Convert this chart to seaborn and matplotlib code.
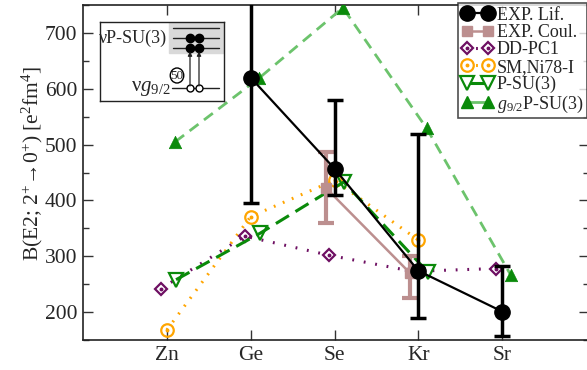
import matplotlib
matplotlib.use("Agg")
import matplotlib.pyplot as plt
from matplotlib.lines import Line2D
from matplotlib.patches import Rectangle, Ellipse
from matplotlib.legend_handler import HandlerTuple
from matplotlib.ticker import MultipleLocator
import seaborn as sns
import pandas as pd
import numpy as np

# Nuclei along the chain
elements = ["Zn", "Ge", "Se", "Kr", "Sr"]

# Experiment, lifetime measurements (value, lower and upper error bounds)
lif_nuclei = ["Ge", "Se", "Kr", "Sr"]
lif_value = [620, 457, 274, 201]
lif_low = [395, 410, 190, 158]
lif_high = [845, 580, 519, 283]

# Experiment, Coulomb excitation
coul_nuclei = ["Se", "Kr"]
coul_value = [422, 270]
coul_low = [359, 225]
coul_high = [487, 300]

# Theory
ddpc1_nuclei = ["Zn", "Ge", "Se", "Kr", "Sr"]
ddpc1_value = [242, 336, 302, 273, 278]

sm_nuclei = ["Zn", "Ge", "Se", "Kr"]
sm_value = [168, 371, 436, 329]

psu3_nuclei = ["Zn", "Ge", "Se", "Kr"]
psu3_value = [258, 341, 433, 272]

g92_nuclei = ["Zn", "Ge", "Se", "Kr", "Sr"]
g92_value = [505, 619, 745, 529, 267]

sns.set_theme(style="ticks")
plt.rcParams["font.family"] = ["Liberation Serif", "DejaVu Serif"]
plt.rcParams["mathtext.fontset"] = "custom"
plt.rcParams["mathtext.rm"] = "Liberation Serif"
plt.rcParams["mathtext.it"] = "Liberation Serif:italic"

BLACK = "#000000"
ROSY = "#bc8f8f"
PURPLE = "#6e0f62"
ORANGE = "#ffa500"
GREEN = "#0a8a0a"
LGREEN = "#6cc36c"

pos = {e: i + 1 for i, e in enumerate(elements)}


def frame(nuclei, values, shift=0.0):
    return pd.DataFrame({"x": [pos[n] + shift for n in nuclei], "y": values})


fig = plt.figure(figsize=(5.87, 3.70), dpi=100)
ax = fig.add_axes([83 / 587, 30 / 370, 506 / 587, 335 / 370])

# g9/2 P-SU(3): light dashed line, solid triangles
d = frame(g92_nuclei, g92_value, 0.1)
sns.lineplot(data=d, x="x", y="y", ax=ax, sort=False, color=LGREEN, lw=2,
             linestyle=(0, (4, 2.5)), zorder=2)
sns.scatterplot(data=d, x="x", y="y", ax=ax, marker="^", s=80, color=GREEN,
                edgecolor=GREEN, linewidth=0.5, zorder=3)

# DD-PC1: dotted line, diamonds with a centre dot
d = frame(ddpc1_nuclei, ddpc1_value, -0.07)
sns.lineplot(data=d, x="x", y="y", ax=ax, sort=False, color=PURPLE, lw=2.2,
             linestyle=(0, (0.6, 3.2)), zorder=3)
ax.plot(d["x"], d["y"], ls="none", marker="D", ms=6.5, mfc="white", mec=PURPLE,
        mew=1.6, zorder=4)
ax.plot(d["x"], d["y"], ls="none", marker="o", ms=1.8, color=PURPLE, zorder=4)

# SM, Ni78-I: dotted line, circles with a centre dot
d = frame(sm_nuclei, sm_value)
sns.lineplot(data=d, x="x", y="y", ax=ax, sort=False, color=ORANGE, lw=2.2,
             linestyle=(0, (0.6, 2.6)), zorder=3)
ax.plot(d["x"], d["y"], ls="none", marker="o", ms=9, mfc="none", mec=ORANGE,
        mew=1.6, zorder=4)
ax.plot(d["x"], d["y"], ls="none", marker="o", ms=1.8, color=ORANGE, zorder=4)

# P-SU(3): dashed line, open down triangles
d = frame(psu3_nuclei, psu3_value, 0.11)
sns.lineplot(data=d, x="x", y="y", ax=ax, sort=False, color=GREEN, lw=2.2,
             linestyle=(0, (5, 2.5)), zorder=4)
ax.plot(d["x"], d["y"], ls="none", marker="v", ms=10, mfc="none", mec=GREEN,
        mew=1.6, zorder=5)

# Experiment, Coulomb excitation
d = frame(coul_nuclei, coul_value, -0.1)
sns.lineplot(data=d, x="x", y="y", ax=ax, sort=False, color=ROSY, lw=1.8, zorder=5)
ax.errorbar(d["x"], d["y"],
            yerr=[np.subtract(coul_value, coul_low), np.subtract(coul_high, coul_value)],
            fmt="s", ms=7, color=ROSY, ecolor=ROSY, elinewidth=3, capsize=6,
            capthick=3, zorder=5)

# Experiment, lifetimes
d = frame(lif_nuclei, lif_value)
sns.lineplot(data=d, x="x", y="y", ax=ax, sort=False, color=BLACK, lw=1.6, zorder=6)
ax.errorbar(d["x"], d["y"],
            yerr=[np.subtract(lif_value, lif_low), np.subtract(lif_high, lif_value)],
            fmt="o", ms=11, color=BLACK, ecolor=BLACK, elinewidth=2.5, capsize=6,
            capthick=2.5, zorder=6)

ax.set_xlim(0, 6 * 506 / 503)
ax.set_ylim(150, 750)
ax.set_xticks(list(pos.values()))
ax.set_xticklabels(elements)
ax.yaxis.set_major_locator(MultipleLocator(100))
ax.yaxis.set_minor_locator(MultipleLocator(50))
ax.set_xlabel("")
ax.set_ylabel("B(E2; 2$^{+}$→0$^{+}$) [e$^{2}$fm$^{4}$]", fontsize=15.5)
ax.yaxis.label.set_va("center")
ax.yaxis.set_label_coords(-0.1, 0.527)
ax.tick_params(axis="both", which="major", direction="in", length=7, width=1,
               labelsize=15.5, top=True, right=True, color="#333333", pad=4)
ax.tick_params(axis="y", which="minor", direction="in", length=4, width=1,
               right=True, left=True, color="#333333")
for s in ax.spines.values():
    s.set_linewidth(1.2)
    s.set_color("#222222")

# Legend
handles = [
    Line2D([], [], color=BLACK, lw=1.6, marker="o", ms=11),
    Line2D([], [], color=ROSY, lw=1.8, marker="s", ms=7),
    (Line2D([], [], color=PURPLE, lw=2.2, ls=(0, (0.6, 2.2)), marker="D", ms=6.5,
            mfc="white", mec=PURPLE, mew=1.6),
     Line2D([], [], ls="none", marker="o", ms=1.8, color=PURPLE)),
    (Line2D([], [], color=ORANGE, lw=2.2, ls=(0, (0.6, 2.2)), marker="o", ms=9,
            mfc="white", mec=ORANGE, mew=1.6),
     Line2D([], [], ls="none", marker="o", ms=1.8, color=ORANGE)),
    Line2D([], [], color=GREEN, lw=2.2, marker="v", ms=10, mfc="white", mec=GREEN,
           mew=1.6),
    Line2D([], [], color=LGREEN, lw=2, marker="^", ms=9, mfc=GREEN, mec=GREEN),
]
labels = ["EXP. Lif.", "EXP. Coul.", "DD-PC1", "SM,Ni78-I", "P-SU(3)",
          r"$g_{9/2}$P-SU(3)"]
leg = fig.legend(handles, labels, loc="upper right",
                 bbox_to_anchor=(587 / 587, 1 - 3 / 370), numpoints=2,
                 handlelength=1.8, handletextpad=0.15, labelspacing=0.02,
                 borderpad=0.2, borderaxespad=0, fontsize=13, fancybox=False,
                 handler_map={tuple: HandlerTuple(ndivide=1)})
leg.get_frame().set_edgecolor("#222222")
leg.get_frame().set_linewidth(1.2)
leg.set_zorder(10)

# Level scheme inset
ins = fig.add_axes([100 / 587, 1 - 101 / 370, 124 / 587, 79 / 370])
ins.set_xlim(100, 224)
ins.set_ylim(101, 22)
ins.set_xticks([])
ins.set_yticks([])
ins.set_facecolor("white")
for s in ins.spines.values():
    s.set_linewidth(1.0)
    s.set_color("#222222")
ins.add_patch(Rectangle((169, 22), 55, 31.3, color="#d9d9d9", zorder=0))
for yl in (27.7, 37.7, 47.7):
    ins.plot([173, 219], [yl, yl], color="#222222", lw=1)
ins.plot([172, 219], [87.7, 87.7], color="#222222", lw=1)
for xd in (190, 199):
    ins.plot([xd, xd], [37.7, 47.7], ls="none", marker="o", ms=6, color="black")
    ins.annotate("", xy=(xd, 51.5), xytext=(xd, 86),
                 arrowprops=dict(arrowstyle="-|>", lw=0.9, color="#222222",
                                 mutation_scale=6, shrinkA=0, shrinkB=0))
    ins.plot([xd], [87.7], ls="none", marker="o", ms=5, mfc="white", mec="black",
             mew=1)
ins.text(167, 38.5, "νP-SU(3)", ha="right", va="center", fontsize=13)
ins.text(171, 88, r"ν$g_{9/2}$", ha="right", va="center", fontsize=15)
ins.add_patch(Ellipse((177, 75.5), 13.5, 15, fill=False, ec="black", lw=1))
ins.text(177, 76, "50", ha="center", va="center", fontsize=9.5)

fig.savefig("out.png", dpi=100)
